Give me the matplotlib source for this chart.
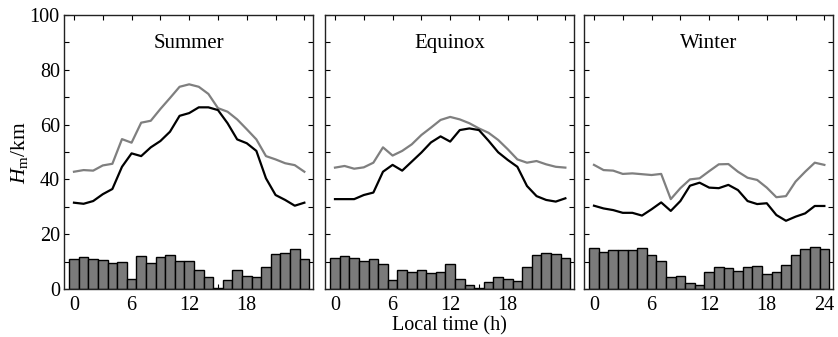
import matplotlib
matplotlib.use("Agg")
import matplotlib.pyplot as plt
from matplotlib.ticker import MultipleLocator

plt.rcParams['font.family'] = ['Liberation Serif', 'DejaVu Serif']
plt.rcParams['mathtext.fontset'] = 'custom'
plt.rcParams['mathtext.rm'] = 'Liberation Serif'
plt.rcParams['mathtext.it'] = 'Liberation Serif:italic'

hours = list(range(25))
seasons = ["Summer", "Equinox", "Winter"]

summer_black = [31.5, 31.1, 32.1, 34.6, 36.5, 44.6, 49.5, 48.5, 51.7, 54.0, 57.4, 63.2, 64.2,
                66.3, 66.3, 65.3, 60.5, 54.6, 53.2, 50.4, 40.4, 34.3, 32.5, 30.4, 31.5]
summer_gray = [42.8, 43.4, 43.2, 45.1, 45.7, 54.7, 53.4, 60.7, 61.4, 65.7, 69.7, 73.8, 74.7,
               73.8, 71.2, 66.0, 64.7, 61.9, 58.3, 54.6, 48.5, 47.3, 45.9, 45.2, 42.8]
summer_bars = [10.9, 11.8, 10.9, 10.5, 9.4, 10.0, 3.6, 12.0, 9.6, 11.8, 12.4, 10.3, 10.3,
               6.9, 4.5, 0.4, 3.3, 7.1, 4.9, 4.3, 8.1, 12.7, 13.3, 14.7, 11.1]

equinox_black = [32.8, 32.8, 32.8, 34.3, 35.2, 42.8, 45.3, 43.2, 46.5, 49.8, 53.5, 55.7, 53.8,
                 58.0, 58.6, 58.0, 54.1, 49.9, 47.1, 44.6, 37.6, 33.9, 32.5, 31.9, 33.1]
equinox_gray = [44.3, 44.9, 43.9, 44.4, 46.1, 51.7, 48.7, 50.4, 52.8, 56.2, 58.9, 61.7, 62.8,
                61.9, 60.5, 58.6, 57.0, 54.4, 51.0, 47.3, 46.1, 46.7, 45.5, 44.6, 44.3]
equinox_bars = [11.2, 12.0, 11.2, 10.3, 10.9, 9.0, 3.3, 6.9, 6.2, 6.9, 5.7, 6.1, 9.0,
                3.5, 1.5, 0.3, 2.6, 4.3, 3.8, 2.8, 8.1, 12.3, 13.0, 12.8, 11.2]

winter_black = [30.4, 29.4, 28.8, 27.8, 27.8, 26.8, 29.1, 31.6, 28.5, 32.1, 37.7, 38.8, 37.0,
                36.8, 38.0, 36.1, 32.1, 31.0, 31.3, 27.0, 24.9, 26.4, 27.6, 30.3, 30.3]
winter_gray = [45.3, 43.4, 43.2, 42.0, 42.2, 41.9, 41.6, 42.0, 32.8, 36.8, 40.0, 40.4, 43.0,
               45.5, 45.6, 42.8, 40.6, 39.8, 37.0, 33.5, 33.9, 39.2, 42.8, 46.1, 45.3]
winter_bars = [14.8, 13.6, 14.2, 14.2, 14.2, 14.8, 12.4, 10.2, 4.5, 4.7, 2.1, 1.5, 6.3,
               8.1, 7.5, 6.6, 8.1, 8.5, 5.5, 6.3, 8.8, 12.4, 14.5, 15.4, 14.6]

blacks = [summer_black, equinox_black, winter_black]
grays = [summer_gray, equinox_gray, winter_gray]
bars = [summer_bars, equinox_bars, winter_bars]

W, H = 838, 337
fig = plt.figure(figsize=(W / 100, H / 100), dpi=100)
fig.patch.set_facecolor('white')

lefts = [64, 325, 584]
pw = 249
bottom_px, top_px = 289, 15

for i, (x0, name) in enumerate(zip(lefts, seasons)):
    ax = fig.add_axes([x0 / W, (H - bottom_px) / H, pw / W, (bottom_px - top_px) / H])
    ax.bar(hours, bars[i], width=1.0, color='#7a7a7a', edgecolor='black', linewidth=1.0, zorder=2)
    ax.plot(hours, grays[i], color='#7f7f7f', lw=1.6, zorder=3)
    ax.plot(hours, blacks[i], color='black', lw=1.6, zorder=4)
    ax.set_xlim(-1.04, 24.9)
    ax.set_ylim(0, 100)
    ax.xaxis.set_major_locator(MultipleLocator(6))
    ax.xaxis.set_minor_locator(MultipleLocator(3))
    ax.yaxis.set_major_locator(MultipleLocator(20))
    ax.yaxis.set_minor_locator(MultipleLocator(10))
    ax.tick_params(which='both', direction='in', top=True, right=True, length=3.5, width=0.8,
                   labelsize=14.5)
    ax.tick_params(axis='x', pad=5)
    ax.tick_params(axis='y', pad=3)
    if i < 2:
        ax.set_xticks([0, 6, 12, 18])
        ax.set_xticklabels(['0', '6', '12', '18'])
    else:
        ax.set_xticks([0, 6, 12, 18, 24])
    if i > 0:
        ax.set_yticklabels([])
    for sp in ax.spines.values():
        sp.set_linewidth(1.0)
        sp.set_color('#222222')
    ax.text(0.5, 0.895, name, transform=ax.transAxes, ha='center', va='center', fontsize=15)
    if i == 0:
        ax.set_ylabel(r'$H_{\mathrm{m}}$/km', fontsize=15.5, labelpad=0)
    if i == 1:
        ax.set_xlabel('Local time (h)', fontsize=14.5, labelpad=1)

fig.savefig('out.png', dpi=100)
